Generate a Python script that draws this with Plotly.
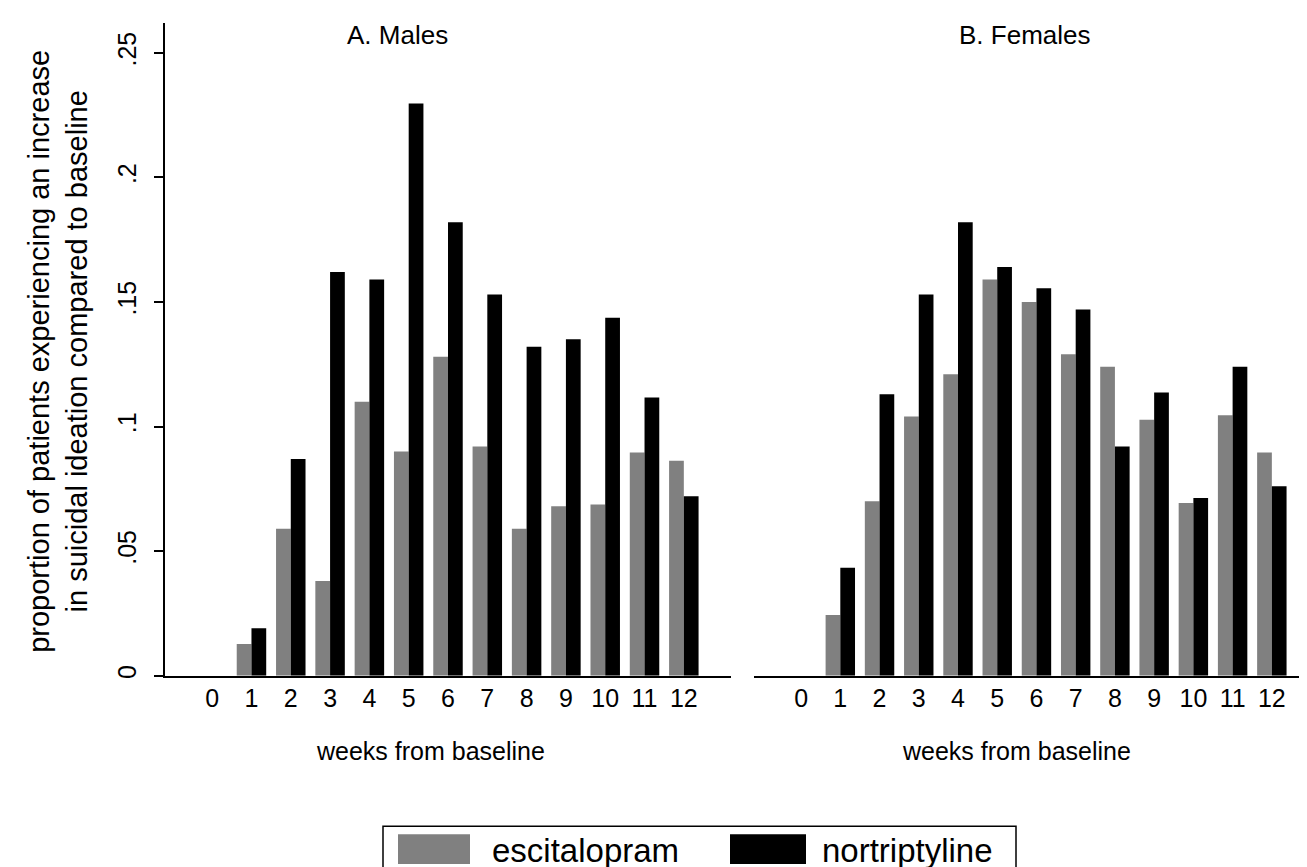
import plotly.graph_objects as go

weeks = list(range(13))
tick_labels = [str(w) for w in weeks]

males_escitalopram = [0, 0.0127, 0.059, 0.038, 0.110, 0.090, 0.128, 0.092, 0.059, 0.068, 0.0687, 0.0896, 0.0863]
males_nortriptyline = [0, 0.019, 0.087, 0.162, 0.159, 0.2297, 0.182, 0.153, 0.132, 0.135, 0.1437, 0.1117, 0.072]
females_escitalopram = [0, 0.0244, 0.070, 0.104, 0.121, 0.159, 0.150, 0.129, 0.124, 0.1027, 0.0693, 0.1045, 0.0896]
females_nortriptyline = [0, 0.0433, 0.113, 0.153, 0.182, 0.164, 0.1555, 0.147, 0.092, 0.1137, 0.0713, 0.124, 0.076]

y_ticks = [0, 0.05, 0.1, 0.15, 0.2, 0.25]
y_tick_labels = ["0", ".05", ".1", ".15", ".2", ".25"]

series_names = ["escitalopram", "nortriptyline"]
series_colors = ["#808080", "#000000"]

FONT = "Liberation Sans, Arial, Helvetica, sans-serif"
W, H = 1307, 867

fig = go.Figure()
for name, color, vals in zip(series_names, series_colors, [males_escitalopram, males_nortriptyline]):
    fig.add_trace(go.Bar(x=weeks, y=vals, name=name, marker=dict(color=color, line=dict(width=0)),
                         xaxis="x", yaxis="y", showlegend=False))
for name, color, vals in zip(series_names, series_colors, [females_escitalopram, females_nortriptyline]):
    fig.add_trace(go.Bar(x=weeks, y=vals, name=name, marker=dict(color=color, line=dict(width=0)),
                         xaxis="x2", yaxis="y2", showlegend=False))

def px(x):
    return x / W

def py(y):
    return 1 - y / H

ydom = [py(670), py(15)]
yrange = [0, (670 - 15) / 2500]

xaxis_common = dict(
    range=[-1.2, 13.2], tickmode="array", tickvals=weeks, ticktext=tick_labels,
    showline=True, linecolor="black", linewidth=1.5, ticks="", showgrid=False, zeroline=False,
    tickfont=dict(family=FONT, size=25, color="black"), ticklabelstandoff=0,
    fixedrange=True,
)

fig.update_layout(
    width=W, height=H,
    margin=dict(l=0, r=0, t=0, b=0),
    paper_bgcolor="white", plot_bgcolor="white",
    barmode="group", bargap=0.25, bargroupgap=0,
    font=dict(family=FONT, color="black"),
    xaxis=dict(domain=[px(157), px(723)], anchor="y", **xaxis_common),
    xaxis2=dict(domain=[px(746), 1.0], anchor="y2", **{**xaxis_common, "range": [-1.2, 13.1]}),
    yaxis=dict(
        domain=ydom, range=yrange, anchor="x",
        tickmode="array", tickvals=y_ticks, ticktext=y_tick_labels, tickangle=-90,
        showline=True, linecolor="black", linewidth=1.5, ticks="outside", ticklen=9, tickwidth=1.5,
        tickcolor="black", showgrid=False, zeroline=False, ticklabelstandoff=8,
        tickfont=dict(family=FONT, size=25, color="black"),
    ),
    yaxis2=dict(domain=ydom, range=yrange, anchor="x2", visible=False),
    showlegend=False,
)

# y-axis title
fig.add_annotation(text="proportion of patients experiencing an increase<br>in suicidal ideation compared to baseline",
                   x=px(50), y=py(345), xref="paper", yref="paper", showarrow=False, textangle=-90,
                   font=dict(family=FONT, size=29, color="black"), xanchor="center", yanchor="middle")

# x-axis titles
for xc in (422, 1009):
    fig.add_annotation(text="weeks from baseline", x=px(xc), y=py(746), xref="paper", yref="paper",
                       showarrow=False, font=dict(family=FONT, size=25, color="black"),
                       xanchor="center", yanchor="middle")

# panel titles
fig.add_annotation(text="A. Males", x=px(389), y=py(27), xref="paper", yref="paper", showarrow=False,
                   font=dict(family=FONT, size=26, color="black"), xanchor="center", yanchor="middle")
fig.add_annotation(text="B. Females", x=px(1017), y=py(27), xref="paper", yref="paper", showarrow=False,
                   font=dict(family=FONT, size=26, color="black"), xanchor="center", yanchor="middle")

# legend box (drawn)
fig.add_shape(type="rect", xref="paper", yref="paper", x0=px(375), x1=px(1008), y0=py(880), y1=py(821),
              line=dict(color="black", width=1.5), fillcolor="rgba(0,0,0,0)")
legend_items = [(390, 462, 482), (722, 798, 812)]
for (sx0, sx1, tx), name, color in zip(legend_items, series_names, series_colors):
    fig.add_shape(type="rect", xref="paper", yref="paper", x0=px(sx0), x1=px(sx1), y0=py(859), y1=py(829),
                  line=dict(width=0), fillcolor=color)
    fig.add_annotation(text=name, x=px(tx), y=py(845), xref="paper", yref="paper", showarrow=False,
                       font=dict(family=FONT, size=33, color="black"), xanchor="left", yanchor="middle")

fig.write_html("out.html")
